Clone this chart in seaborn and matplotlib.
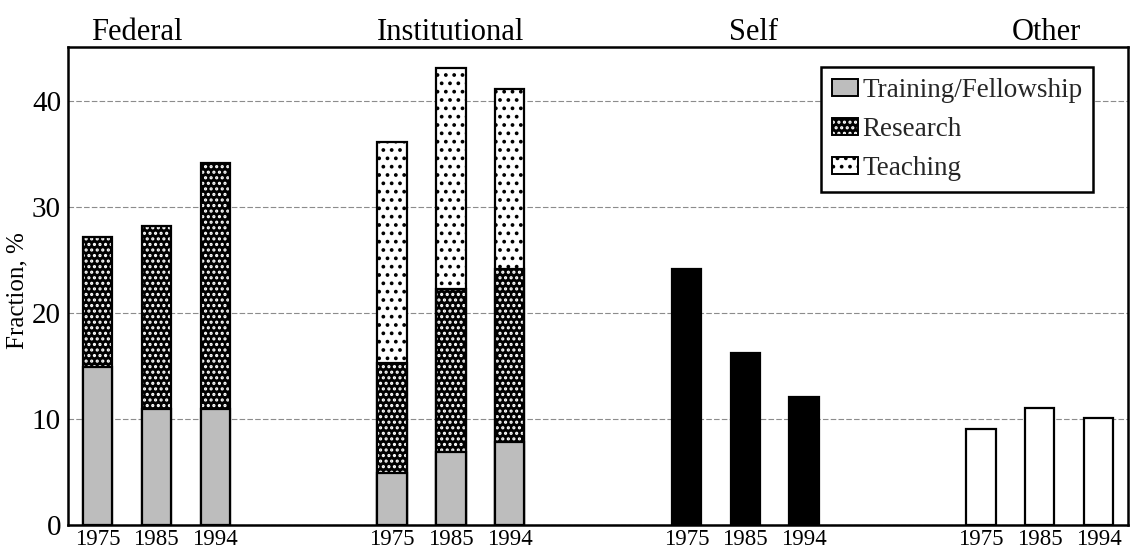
import numpy as np
import pandas as pd
import matplotlib
matplotlib.use("Agg")
import matplotlib.pyplot as plt
import matplotlib.colors as mcolors
from matplotlib.patches import Patch
import seaborn as sns

# ---------------- data ----------------
groups = ["Federal", "Institutional", "Self", "Other"]
years = ["1975", "1985", "1994"]
series = ["Training/Fellowship", "Research", "Teaching"]

federal_training = [14.9, 10.9, 10.9]
federal_research = [12.3, 17.3, 23.3]
inst_training = [4.9, 6.9, 7.8]
inst_research = [10.4, 15.4, 16.4]
inst_teaching = [20.8, 20.8, 16.9]
self_total = [24.2, 16.2, 12.1]
other_total = [9.1, 11.0, 10.1]
yticks = [0, 10, 20, 30, 40]

# ---------------- style ----------------
sns.set_theme(style="white")
plt.rcParams["font.family"] = ["Liberation Serif", "DejaVu Serif"]
plt.rcParams["hatch.linewidth"] = 1.5

fig = plt.figure(figsize=(11.31, 5.55), dpi=100)
ax = fig.add_axes([68 / 1131, 1 - 525 / 555, (1128 - 68) / 1131, (525 - 47) / 555])

# category slots (two empty slots between groups)
order = []
for gi, g in enumerate(groups):
    if gi > 0:
        order += [f"_gap{gi}a", f"_gap{gi}b"]
    order += [f"{g} {y}" for y in years]


def keys(g):
    return [f"{g} {y}" for y in years]


def set_hc(p, c):
    if hasattr(p, "set_hatchcolor"):
        p.set_hatchcolor(c)
    else:
        p._hatch_color = mcolors.to_rgba(c)
        p.stale = True


fed_cum_research = np.add(federal_training, federal_research)
inst_cum_research = np.add(inst_training, inst_research)
inst_cum_teaching = inst_cum_research + np.array(inst_teaching)

TRAIN_GRAY = "#bdbdbd"
layers = [
    (keys("Institutional"), list(inst_cum_teaching), "white", "..", "black"),
    (keys("Federal") + keys("Institutional"),
     list(fed_cum_research) + list(inst_cum_research), "black", "...", "white"),
    (keys("Federal") + keys("Institutional"),
     federal_training + inst_training, TRAIN_GRAY, None, None),
    (keys("Self"), self_total, "black", None, None),
    (keys("Other"), other_total, "white", None, None),
]

for slots, vals, face, hatch, hc in layers:
    df = pd.DataFrame({"slot": slots, "value": vals})
    sns.barplot(data=df, x="slot", y="value", order=order, color=face,
                saturation=1, width=0.5, edgecolor="black", linewidth=1.6,
                errorbar=None, ax=ax, zorder=3)
    for p in ax.containers[-1]:
        p.set_facecolor(face)
        p.set_edgecolor("black")
        if hatch:
            p.set_hatch(hatch)
            set_hc(p, hc)

# ---------------- axes ----------------
ax.set_xlim(-0.5, len(order) - 0.5)
ax.set_ylim(0, 45.1)
tick_pos = [order.index(k) for g in groups for k in keys(g)]
ax.set_xticks(tick_pos)
ax.set_xticklabels(years * len(groups), fontsize=16.5)
ax.set_yticks(yticks)
ax.set_yticklabels([str(t) for t in yticks], fontsize=21)
ax.tick_params(axis="both", length=0, colors="black")
ax.tick_params(axis="x", pad=3)
ax.tick_params(axis="y", pad=5)
ax.set_xlabel("")
ax.set_ylabel("Fraction, %", fontsize=18, color="black")
ax.yaxis.set_label_coords(-0.037, 0.49)

ax.yaxis.grid(True, color="#8c8c8c", linewidth=0.8, linestyle=(0, (5, 2)))
ax.xaxis.grid(False)
ax.set_axisbelow(True)
for s in ax.spines.values():
    s.set_visible(True)
    s.set_color("black")
    s.set_linewidth(1.8)

# group titles (small horizontal nudges, in points, as in the original layout)
title_nudge = {"Federal": -14, "Institutional": 0, "Self": 6, "Other": 5}
for g in groups:
    xi = order.index(f"{g} {years[1]}")
    ax.annotate(g, xy=(xi, 1), xycoords=("data", "axes fraction"),
                xytext=(title_nudge[g], 5), textcoords="offset points",
                ha="center", va="baseline", fontsize=22, color="black")

# legend
leg_specs = [(TRAIN_GRAY, None, None), ("black", "...", "white"), ("white", "..", "black")]
handles = []
for face, hatch, hc in leg_specs:
    h = Patch(facecolor=face, edgecolor="black", hatch=hatch, linewidth=1.4)
    if hatch:
        set_hc(h, hc)
    handles.append(h)
leg = ax.legend(handles, series, loc="upper right",
                bbox_to_anchor=(1093 / 1131, 1 - 67 / 555),
                bbox_transform=fig.transFigure, frameon=True, fancybox=False,
                edgecolor="black", framealpha=1, fontsize=19.5,
                handlelength=0.95, handleheight=0.56, handletextpad=0.15,
                labelspacing=0.52, borderpad=0.4, borderaxespad=0)
leg.get_frame().set_linewidth(1.8)
for lp, (face, hatch, hc) in zip(leg.get_patches(), leg_specs):
    if hatch:
        lp.set_hatch(hatch)
        set_hc(lp, hc)

fig.savefig("out.png", dpi=100)
